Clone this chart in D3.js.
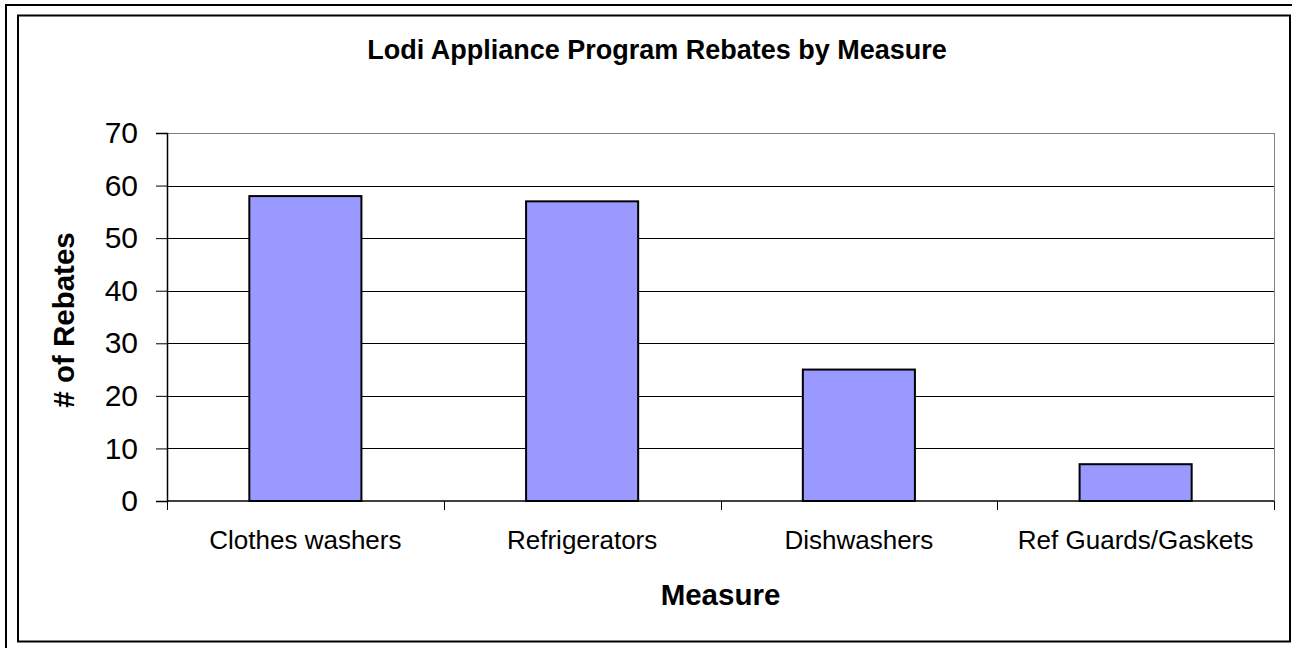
<!DOCTYPE html>
<html>
<head>
<meta charset="utf-8">
<script src="https://cdn.jsdelivr.net/npm/d3@7"></script>
<style>
	body { margin: 0; background: #fff; }
	svg { display: block; }
	text { font-family: Arial, "Liberation Sans", sans-serif; fill: #000; }
</style>
</head>
<body>
<div id="app"></div>
<script>
	// chart data
	const categories = ['Clothes washers', 'Refrigerators', 'Dishwashers', 'Ref Guards/Gaskets'];
	const rebates = [58, 57, 25, 7];
	const yTicks = [0, 10, 20, 30, 40, 50, 60, 70];

	const titleText = 'Lodi Appliance Program Rebates by Measure',
		xTitle = 'Measure',
		yTitle = '# of Rebates';

	const outerWidth = 1292,
		outerHeight = 648,
		margin = { top: 133, right: 18, bottom: 147, left: 167 },
		width = outerWidth - margin.left - margin.right,
		height = outerHeight - margin.top - margin.bottom;

	const svg = d3.select('#app').append('svg')
		.attr('width', outerWidth)
		.attr('height', outerHeight);

	// frames
	svg.append('rect')
		.attr('x', 6).attr('y', 5)
		.attr('width', outerWidth + 20).attr('height', outerHeight + 20)
		.attr('fill', 'none').attr('stroke', '#000').attr('stroke-width', 2);
	svg.append('rect')
		.attr('x', 18).attr('y', 15.5)
		.attr('width', 1272).attr('height', 626)
		.attr('fill', 'none').attr('stroke', '#000').attr('stroke-width', 2);

	const x = d3.scaleBand()
		.domain(categories)
		.range([0, width])
		.paddingInner(0.595)
		.paddingOuter(0.2975);

	const xBoundary = d3.scaleLinear()
		.domain([0, categories.length])
		.range([0, width]);

	const y = d3.scaleLinear()
		.domain([0, 70])
		.range([height, 0]);

	const g = svg.append('g')
		.attr('transform', `translate(${ margin.left }, ${ margin.top })`);

	// gridlines
	g.append('g')
		.selectAll('line')
		.data(yTicks.filter(d => d > 0))
		.enter().append('line')
			.attr('x1', 0)
			.attr('x2', width)
			.attr('y1', d => Math.round(y(d)) + 0.5)
			.attr('y2', d => Math.round(y(d)) + 0.5)
			.attr('stroke', d => d === 70 ? '#808080' : '#000')
			.attr('stroke-width', 1);

	// right border of plot area
	g.append('line')
		.attr('x1', width + 0.5).attr('x2', width + 0.5)
		.attr('y1', 0).attr('y2', height)
		.attr('stroke', '#808080');

	// bars
	g.selectAll('rect.bar')
		.data(rebates)
		.enter().append('rect')
			.attr('class', 'bar')
			.attr('x', (d, i) => x(categories[i]))
			.attr('y', d => y(d))
			.attr('width', x.bandwidth())
			.attr('height', d => height - y(d))
			.attr('fill', '#9999FF')
			.attr('stroke', '#000')
			.attr('stroke-width', 2);

	// y axis
	const yAxis = g.append('g')
		.call(d3.axisLeft(y).tickValues(yTicks).tickSize(11).tickPadding(18));
	yAxis.select('.domain').attr('stroke', '#000').attr('stroke-width', 1.5);
	yAxis.selectAll('.tick line').attr('stroke', '#000');
	yAxis.selectAll('text')
		.style('font-size', '30px')
		.attr('fill', '#000');

	// x axis
	const xAxisG = g.append('g')
		.attr('transform', `translate(0, ${ height })`);
	xAxisG.append('line')
		.attr('x1', 0).attr('x2', width)
		.attr('y1', 0).attr('y2', 0)
		.attr('stroke', '#000').attr('stroke-width', 1.5);
	xAxisG.selectAll('line.tick')
		.data(d3.range(categories.length + 1))
		.enter().append('line')
			.attr('class', 'tick')
			.attr('x1', d => Math.round(xBoundary(d)) + 0.5)
			.attr('x2', d => Math.round(xBoundary(d)) + 0.5)
			.attr('y1', 0).attr('y2', 9)
			.attr('stroke', '#000');
	xAxisG.selectAll('text.cat')
		.data(categories)
		.enter().append('text')
			.attr('class', 'cat')
			.attr('x', d => x(d) + x.bandwidth() / 2)
			.attr('y', 48)
			.attr('text-anchor', 'middle')
			.style('font-size', '26px')
			.text(d => d);

	// titles
	svg.append('text')
		.attr('x', 657)
		.attr('y', 59)
		.attr('text-anchor', 'middle')
		.style('font-size', '27px')
		.style('font-weight', 'bold')
		.text(titleText);

	svg.append('text')
		.attr('x', margin.left + width / 2)
		.attr('y', 605)
		.attr('text-anchor', 'middle')
		.style('font-size', '29.5px')
		.style('font-weight', 'bold')
		.text(xTitle);

	svg.append('text')
		.attr('transform', `translate(74, ${ 320 }) rotate(-90)`)
		.attr('text-anchor', 'middle')
		.style('font-size', '29.5px')
		.style('font-weight', 'bold')
		.text(yTitle);
</script>
</body>
</html>
